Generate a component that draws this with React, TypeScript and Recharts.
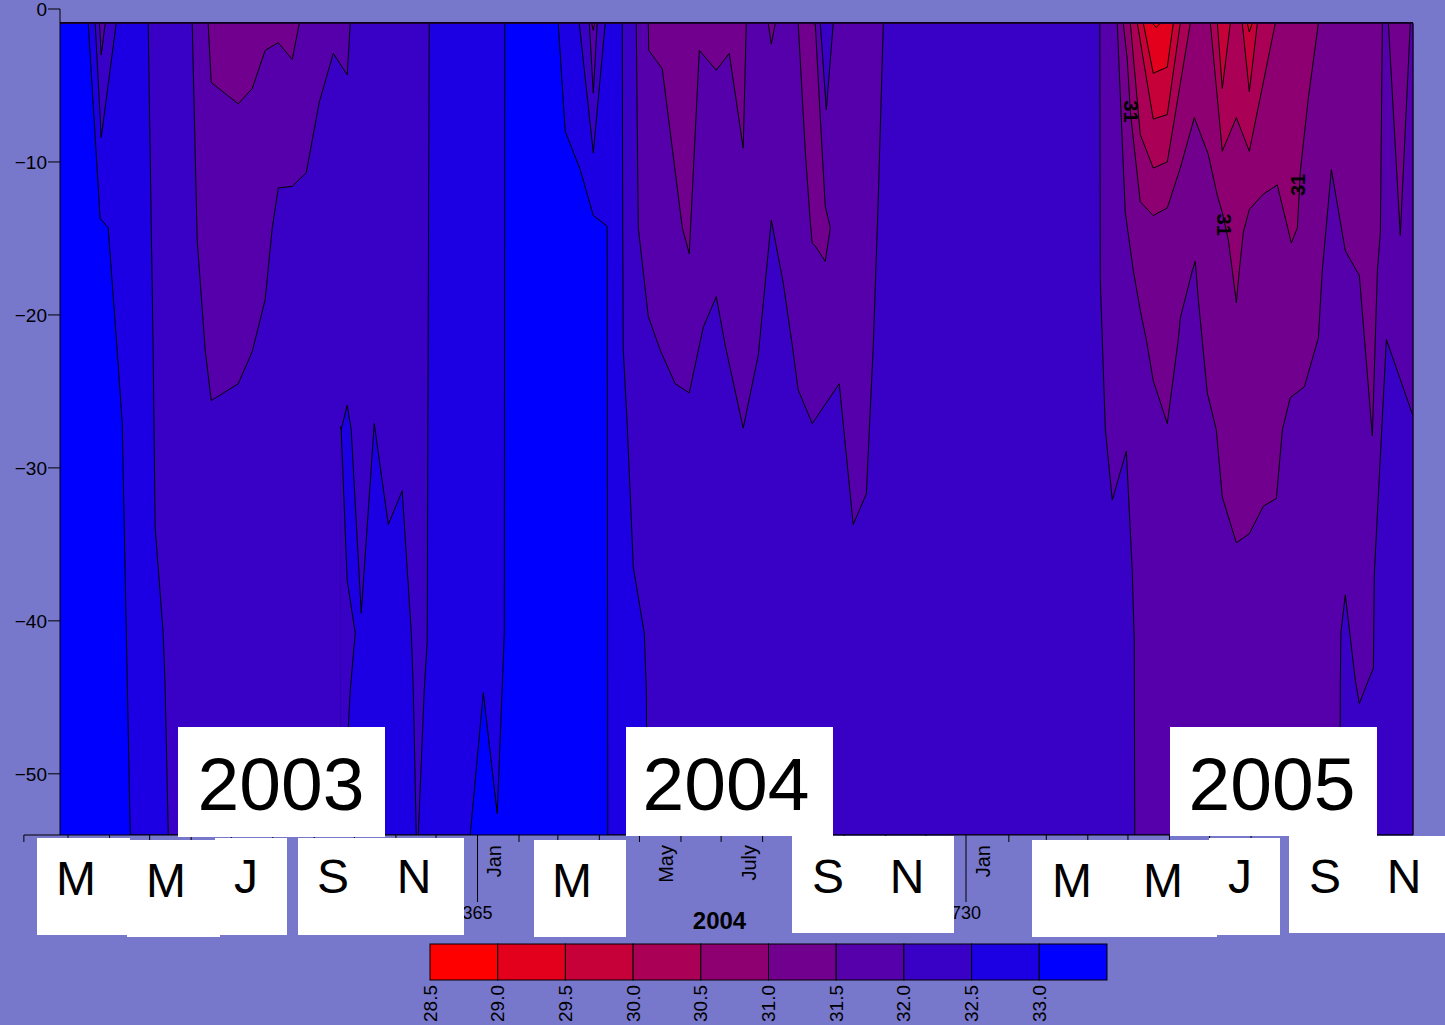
import React from 'react';
import { ComposedChart, Area, XAxis, YAxis, ReferenceLine, ReferenceDot } from 'recharts';

const TOP = -0.93;
const BOTTOM = -54;
const DAY_MIN = 53;
const DAY_MAX = 1064;

// salinity class boundaries and colours (legend)
const LEGEND_LABELS = ['28.5', '29.0', '29.5', '30.0', '30.5', '31.0', '31.5', '32.0', '32.5', '33.0'];
const BAND_COLORS = ['#ff0000', '#e3001c', '#c60039', '#aa0055', '#8e0071', '#71008e', '#5500aa', '#3900c6', '#1c00e3', '#0000ff'];

// isoline depths [day, depth(m)] : fresher water lies above each line
const ISO_330 = [
  [53, TOP], [74.1, TOP], [83.0, -13.7], [89.0, -14.3], [95.7, -22.3], [99.5, -27.1], [105.5, BOTTOM],
  [359.5, BOTTOM], [369.3, -44.7], [379.7, -52.6], [383.5, -44.2], [385.0, -40.8], [385.3, TOP],
  [425.3, TOP], [430.5, -8.0], [441.7, -10.5], [451.5, -13.5], [461.9, -14.2], [462.3, BOTTOM],
  [1064, BOTTOM],
];
const ISO_325 = [
  [53, TOP], [79.3, TOP], [83.8, -8.4], [95.0, TOP],
  [118.9, TOP], [122.6, -22.3], [124.1, -33.9], [130.1, -40.8], [131.6, -44.5], [133.9, BOTTOM],
  [262.9, BOTTOM], [263.1, -27.5], [267.6, -25.9], [270.6, -27.5], [278.1, -39.5], [287.8, -27.1], [298.3, -33.7],
  [308.7, -31.5], [315.5, -40.8], [317.0, -44.5], [319.2, BOTTOM],
  [320.7, BOTTOM], [325.2, -44.5], [327.4, -41.3], [328.1, -21.6], [328.9, TOP],
  [441.0, TOP], [451.5, -9.4], [460.4, TOP],
  [473.1, TOP], [473.5, -14.6], [473.9, -22.3], [476.9, -27.3], [481.4, -36.5], [489.6, -40.8], [491.1, -44.5], [491.8, BOTTOM],
  [1064, BOTTOM],
];
const ISO_320 = [
  [53, TOP], [82.5, TOP], [83.8, -3.0], [86.8, TOP],
  [151.8, TOP], [155.5, -15.1], [161.5, -22.3], [166.0, -25.6], [186.2, -24.5], [196.6, -22.4], [206.3, -19.0],
  [211.6, -14.3], [216.1, -11.7], [226.5, -11.6], [237.0, -10.7], [246.7, -6.1], [257.2, -2.9], [267.6, -4.3], [269.9, TOP],
  [448.5, TOP], [451.5, -5.5], [454.4, TOP],
  [483.6, TOP], [485.1, -14.3], [492.6, -20.1], [501.5, -22.3], [503.0, -22.6], [512.7, -24.5], [523.2, -25.1],
  [530.7, -22.0], [533.7, -20.8], [543.4, -18.8], [550.1, -22.0], [563.5, -27.4], [574.8, -22.6], [584.5, -13.8],
  [593.4, -17.9], [600.2, -22.0], [604.6, -24.9], [615.1, -27.1], [635.3, -24.5], [645.7, -33.7], [655.5, -31.7],
  [660.7, -22.0], [664.4, -12.5], [668.2, TOP],
  [830.0, TOP], [830.3, -17.6], [834.1, -27.5], [839.3, -32.1], [849.8, -28.9], [854.2, -36.7], [855.7, -41.3], [856.1, BOTTOM],
  [1009.3, BOTTOM], [1009.7, -43.9], [1010.1, -40.8], [1013.4, -38.3], [1020.9, -43.9], [1023.9, -45.4], [1030.6, -43.9],
  [1034.4, -43.1], [1035.1, -36.9], [1044.1, -21.6], [1064, -26.6],
];
const ISO_315 = [
  [53, TOP], [163.7, TOP], [166.0, -4.8], [186.2, -6.2], [196.6, -5.2], [206.3, -2.7], [216.1, -2.2], [226.5, -3.3], [231.8, TOP],
  [450.3, TOP], [451.5, -1.4], [452.6, TOP],
  [492.6, TOP], [492.9, -2.7], [503.0, -3.9], [518.0, -14.3], [523.2, -16.0], [530.7, -2.7], [543.4, -4.0], [553.1, -2.9],
  [563.5, -9.1], [565.8, TOP],
  [582.2, TOP], [584.5, -2.3], [587.5, TOP],
  [843.0, TOP], [849.0, -13.3], [855.0, -17.1], [860.2, -19.7], [864.7, -21.6], [869.9, -24.3], [880.4, -27.1],
  [888.6, -21.6], [890.1, -20.2], [899.1, -17.1], [901.3, -16.5], [903.6, -19.0], [910.3, -25.1], [917.0, -27.5],
  [921.5, -31.9], [932.0, -34.9], [941.7, -34.3], [952.2, -32.5], [961.9, -32.0], [966.4, -27.5], [972.3, -25.4],
  [982.8, -24.7], [993.3, -21.5], [996.2, -17.1], [1003.0, -10.5], [1013.4, -15.8], [1022.4, -17.2], [1023.9, -17.4],
  [1033.6, -27.9], [1037.4, -17.1], [1039.6, -14.6], [1041.1, TOP],
  [1045.6, TOP], [1054.5, -14.8], [1062.0, TOP], [1064, TOP],
];
const ISO_310 = [
  [53, TOP], [847.5, TOP], [850.5, -3.3], [852.8, -6.7], [855.0, -8.5], [860.2, -12.6], [869.9, -13.5], [880.4, -13.0],
  [890.1, -10.4], [900.6, -7.1], [911.0, -9.5], [917.8, -12.2], [921.5, -13.3], [926.0, -15.1], [929.0, -17.1],
  [932.0, -19.2], [934.2, -17.1], [937.2, -14.6], [941.7, -13.1], [952.2, -12.1], [962.6, -11.5], [973.1, -15.3],
  [977.6, -14.3], [979.8, -10.6], [985.8, -5.8], [993.3, TOP], [1064, TOP],
];
const ISO_305 = [
  [53, TOP], [852.8, TOP], [860.2, -8.2], [869.9, -10.4], [880.4, -10.0], [897.6, TOP],
  [912.6, TOP], [921.5, -9.3], [932.0, -7.1], [941.7, -9.3], [961.1, TOP], [1064, TOP],
];
const ISO_300 = [
  [53, TOP], [858.0, TOP], [869.9, -7.2], [880.4, -6.9], [890.1, TOP],
  [917.8, TOP], [921.5, -5.2], [927.5, TOP], [936.4, TOP], [941.7, -5.4], [947.7, TOP], [1064, TOP],
];
const ISO_295 = [
  [53, TOP], [862.5, TOP], [869.9, -4.2], [880.4, -3.8], [884.9, TOP],
  [940.2, TOP], [941.7, -1.5], [943.9, TOP], [1064, TOP],
];
const ISO_290 = [
  [53, TOP], [869.2, TOP], [872.2, -1.2], [875.2, TOP], [1064, TOP],
];

// isolated pockets [day, upper depth, lower depth]
const POCKET_TONGUE = [
  [604.6, TOP, TOP], [609.9, TOP, -9.3], [613.6, TOP, -13.9], [615.1, TOP, -15.3], [617.4, -1.0, -15.5],
  [621.1, -7.1, -16.0], [624.8, -12.9, -16.5], [628.6, -14.3, -14.3],
];
const POCKET_SALTY_V = [[621.1, TOP, TOP], [625.6, TOP, -6.6], [630.8, TOP, TOP]];
const POCKET_LEAN = [
  [262.4, -27.3, BOTTOM], [263.1, -27.5, BOTTOM], [267.6, -37.4, BOTTOM], [268.4, -37.8, -47.0],
  [269.9, -38.7, -44.5], [273.6, -40.8, -40.8],
];

// contour labels [day, depth, rotation]
const CONTOUR_LABELS = [[853.5, -6.7, 90], [923.0, -14.1, 90], [978.3, -11.5, -90]];

// axes
const Y_TICKS = [0, -10, -20, -30, -40, -50];
const MINOR_TICKS = [59, 90, 120, 151, 181, 212, 243, 273, 304, 334, 396, 425, 456, 486, 517, 547, 578, 609, 639, 670, 700,
  762, 790, 821, 851, 882, 912, 943, 974, 1004, 1035];
const MAJOR_TICKS = [365, 730];
const MAJOR_LABELS = ['365', '730'];
const MONTH_LABEL_DAYS = [377, 505.6, 568, 743];
const MONTH_LABELS = ['Jan', 'May', 'July', 'Jan'];
const X_TICKS = [...MINOR_TICKS, ...MAJOR_TICKS, ...MONTH_LABEL_DAYS].sort((a, b) => a - b);

const FULL = [[DAY_MIN, TOP, BOTTOM], [DAY_MAX, TOP, BOTTOM]];

const iso = (pts: number[][]) => pts.map(([day, d]) => ({ day, v: [TOP, d] }));
const pocket = (pts: number[][]) => pts.map(([day, a, b]) => ({ day, v: [a, b] }));

const LAYERS: { data: any[]; color: string; stroke: string }[] = [
  { data: pocket(FULL), color: BAND_COLORS[9], stroke: 'none' },
  { data: iso(ISO_330), color: BAND_COLORS[8], stroke: '#000' },
  { data: iso(ISO_325), color: BAND_COLORS[7], stroke: '#000' },
  { data: iso(ISO_320), color: BAND_COLORS[6], stroke: '#000' },
  { data: iso(ISO_315), color: BAND_COLORS[5], stroke: '#000' },
  { data: iso(ISO_310), color: BAND_COLORS[4], stroke: '#000' },
  { data: iso(ISO_305), color: BAND_COLORS[3], stroke: '#000' },
  { data: iso(ISO_300), color: BAND_COLORS[2], stroke: '#000' },
  { data: iso(ISO_295), color: BAND_COLORS[1], stroke: '#000' },
  { data: iso(ISO_290), color: BAND_COLORS[0], stroke: '#000' },
  { data: pocket(POCKET_TONGUE), color: BAND_COLORS[5], stroke: '#000' },
  { data: pocket(POCKET_SALTY_V), color: BAND_COLORS[7], stroke: '#000' },
  { data: pocket(POCKET_LEAN), color: BAND_COLORS[7], stroke: '#000' },
];

// overlay annotation boxes (white boxes with big month / year letters)
const BOXES = [
  { x: 37, y: 838, w: 93, h: 97 }, { x: 127, y: 840, w: 93, h: 97 }, { x: 215, y: 838, w: 72, h: 97 },
  { x: 298, y: 838, w: 166, h: 97 }, { x: 178, y: 727, w: 207, h: 110 },
  { x: 534, y: 840, w: 92, h: 97 }, { x: 626, y: 727, w: 207, h: 109 }, { x: 792, y: 836, w: 162, h: 97 },
  { x: 1032, y: 840, w: 185, h: 97 }, { x: 1209, y: 838, w: 71, h: 97 }, { x: 1170, y: 727, w: 207, h: 109 },
  { x: 1289, y: 836, w: 156, h: 97 },
];
const BOX_TEXTS = [
  { t: 'M', x: 76, y: 895, s: 48 }, { t: 'M', x: 166, y: 897, s: 48 }, { t: 'J', x: 246, y: 893, s: 48 },
  { t: 'S', x: 333, y: 893, s: 48 }, { t: 'N', x: 414, y: 893, s: 48 }, { t: '2003', x: 281, y: 810, s: 75 },
  { t: 'M', x: 572, y: 897, s: 48 }, { t: '2004', x: 726, y: 810, s: 75 }, { t: 'S', x: 828, y: 893, s: 48 },
  { t: 'N', x: 907, y: 893, s: 48 }, { t: 'M', x: 1072, y: 897, s: 48 }, { t: 'M', x: 1163, y: 897, s: 48 },
  { t: 'J', x: 1240, y: 893, s: 48 }, { t: '2005', x: 1272, y: 810, s: 75 }, { t: 'S', x: 1325, y: 893, s: 48 },
  { t: 'N', x: 1404, y: 893, s: 48 },
];

const FONT = '"Liberation Sans", Arial, Helvetica, sans-serif';
const BG = '#7777cc';

function XTick(props: any) {
  const { x, y, payload } = props;
  const v = payload.value;
  const mi = MAJOR_TICKS.indexOf(v);
  if (mi >= 0) {
    return (
      <g>
        <line x1={x} y1={y} x2={x} y2={y + 67} stroke="#000" strokeWidth={1} />
        <text x={x} y={y + 84} textAnchor="middle" fontSize={18} fill="#000" fontFamily={FONT}>{MAJOR_LABELS[mi]}</text>
      </g>
    );
  }
  const li = MONTH_LABEL_DAYS.indexOf(v);
  if (li >= 0) {
    return (
      <text x={x} y={y + 10} transform={`rotate(-90 ${x} ${y + 10})`} textAnchor="end" dominantBaseline="central"
        fontSize={20} fill="#000" fontFamily={FONT}>{MONTH_LABELS[li]}</text>
    );
  }
  return <line x1={x} y1={y} x2={x} y2={y + 7} stroke="#000" strokeWidth={1} />;
}

function ContourLabel(rot: number) {
  return (p: any) => (
    <text x={p.cx} y={p.cy} transform={`rotate(${rot} ${p.cx} ${p.cy})`} textAnchor="middle" dominantBaseline="central"
      fontSize={20} fontWeight="bold" fill="#000" fontFamily={FONT}>31</text>
  );
}

const yFmt = (v: number) => (v < 0 ? '\u2212' + Math.abs(v) : String(v));

export default function App() {
  const legendX0 = 430;
  const legendW = 67.7;
  return (
    <div style={{ position: 'fixed', left: 0, top: 0, width: 1445, height: 1025, background: BG, fontFamily: FONT, overflow: 'hidden' }}>
      <style>{`html, body { margin: 0; padding: 0; background: ${BG}; }`}</style>
      <ComposedChart width={1445} height={1025} margin={{ top: 9, right: 32, bottom: 90, left: 0 }}>
        <XAxis type="number" dataKey="day" domain={[DAY_MIN, DAY_MAX]} allowDataOverflow ticks={X_TICKS} interval={0}
          tickSize={0} tickMargin={0} tickLine={false} axisLine={{ stroke: '#000', strokeWidth: 1 }} tick={XTick} height={100}
          label={{ value: '2004', position: 'insideBottom', offset: 6, dx: -17, fill: '#000', fontSize: 24, fontWeight: 'bold' }} />
        <YAxis type="number" domain={[BOTTOM, 0]} allowDataOverflow ticks={Y_TICKS} interval={0} width={60} tickSize={12}
          tickMargin={1} axisLine={{ stroke: '#000', strokeWidth: 1 }} tickLine={{ stroke: '#000' }}
          tick={{ fill: '#000', fontSize: 19 }} tickFormatter={yFmt} />
        {LAYERS.map((l, i) => (
          <Area key={i} data={l.data} dataKey="v" type="linear" fill={l.color} fillOpacity={1} stroke={l.stroke}
            strokeWidth={1} dot={false} activeDot={false} isAnimationActive={false} />
        ))}
        {CONTOUR_LABELS.map(([d, z, r], i) => (
          <ReferenceDot key={'c' + i} x={d} y={z} r={0} shape={ContourLabel(r)} />
        ))}
        <ReferenceLine segment={[{ x: DAY_MIN, y: TOP }, { x: DAY_MAX, y: TOP }]} stroke="#1a0033" strokeWidth={1.5} />
        <ReferenceLine segment={[{ x: DAY_MAX, y: TOP }, { x: DAY_MAX, y: BOTTOM }]} stroke="#1a0033" strokeWidth={1.5} />
        <ReferenceLine segment={[{ x: 26, y: BOTTOM }, { x: DAY_MIN, y: BOTTOM }]} stroke="#000" ifOverflow="visible" />
        <ReferenceLine segment={[{ x: 26, y: BOTTOM }, { x: 26, y: -54.46 }]} stroke="#000" ifOverflow="visible" />
      </ComposedChart>
      <svg width={1445} height={1025} style={{ position: 'absolute', left: 0, top: 0, pointerEvents: 'none' }}>
        {BOXES.map((b, i) => (
          <rect key={'b' + i} x={b.x} y={b.y} width={b.w} height={b.h} fill="#ffffff" />
        ))}
        {BOX_TEXTS.map((t, i) => (
          <text key={'t' + i} x={t.x} y={t.y} textAnchor="middle" fontSize={t.s} fill="#000" fontFamily={FONT}>{t.t}</text>
        ))}
        {BAND_COLORS.map((c, i) => (
          <rect key={'l' + i} x={legendX0 + i * legendW} y={944} width={legendW} height={36} fill={c} stroke="#000" strokeWidth={1} />
        ))}
        {LEGEND_LABELS.map((s, i) => {
          const lx = legendX0 + i * legendW;
          return (
            <text key={'ll' + i} x={lx} y={985} transform={`rotate(-90 ${lx} 985)`} textAnchor="end" dominantBaseline="central"
              fontSize={19} fill="#000" fontFamily={FONT}>{s}</text>
          );
        })}
      </svg>
    </div>
  );
}
